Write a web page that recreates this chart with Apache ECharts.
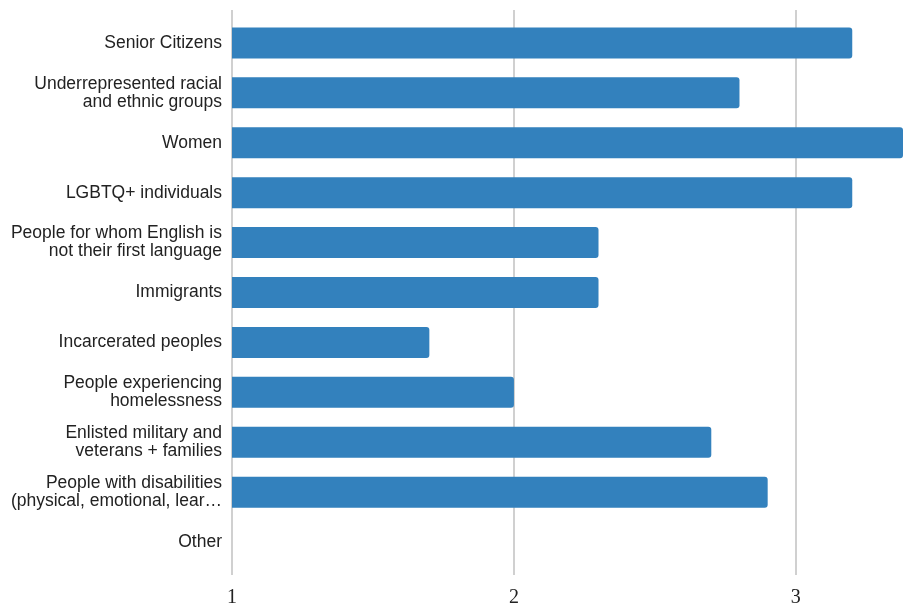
<!DOCTYPE html>
<html>
<head>
<meta charset="utf-8">
<style>html,body{margin:0;padding:0;background:#fff;overflow:hidden;}#c{width:903px;height:604px;}</style>
<script src="https://cdn.jsdelivr.net/npm/echarts@6/dist/echarts.min.js"></script>
</head>
<body>
<div id="c"></div>
<script>
const categories = [
  "Senior Citizens",
  "Underrepresented racial\nand ethnic groups",
  "Women",
  "LGBTQ+ individuals",
  "People for whom English is\nnot their first language",
  "Immigrants",
  "Incarcerated peoples",
  "People experiencing\nhomelessness",
  "Enlisted military and\nveterans + families",
  "People with disabilities\n(physical, emotional, lear…",
  "Other"
];
const values = [3.2, 2.8, 3.4, 3.2, 2.3, 2.3, 1.7, 2.0, 2.7, 2.9, null];
const xMin = 1, xMax = 3.38, xInterval = 1;

const chart = echarts.init(document.getElementById('c'), null, {renderer: 'canvas'});
chart.setOption({
  animation: false,
  grid: [
    {left: 232, right: 0, top: 18, bottom: 37, outerBoundsMode: 'none', containLabel: false},
    {left: 232, right: 0, top: 10, bottom: 29, outerBoundsMode: 'none', containLabel: false}
  ],
  xAxis: [
    {gridIndex: 0, type: 'value', min: xMin, max: xMax, interval: xInterval, show: false},
    {gridIndex: 1, type: 'value', min: xMin, max: xMax, interval: xInterval,
     axisLine: {show: false}, axisTick: {show: false},
     splitLine: {show: true, showMaxLine: false, lineStyle: {color: '#d0d0d0', width: 2}},
     axisLabel: {margin: 13, showMaxLabel: false, fontFamily: 'Liberation Serif', fontSize: 20, color: '#222'}}
  ],
  yAxis: [
    {gridIndex: 0, type: 'category', data: categories, inverse: true,
     axisLine: {show: false}, axisTick: {show: false}, splitLine: {show: false},
     axisLabel: {margin: 10, fontFamily: 'Liberation Sans', fontSize: 17.5, color: '#222', lineHeight: 18, align: 'right'}},
    {gridIndex: 1, type: 'value', show: false, min: 0, max: 1}
  ],
  series: [{
    type: 'bar',
    xAxisIndex: 0, yAxisIndex: 0,
    data: values,
    barWidth: 31,
    clip: true,
    z: 3,
    itemStyle: {color: '#3381bd', borderRadius: [0, 3, 3, 0]}
  }]
});
</script>
</body>
</html>
